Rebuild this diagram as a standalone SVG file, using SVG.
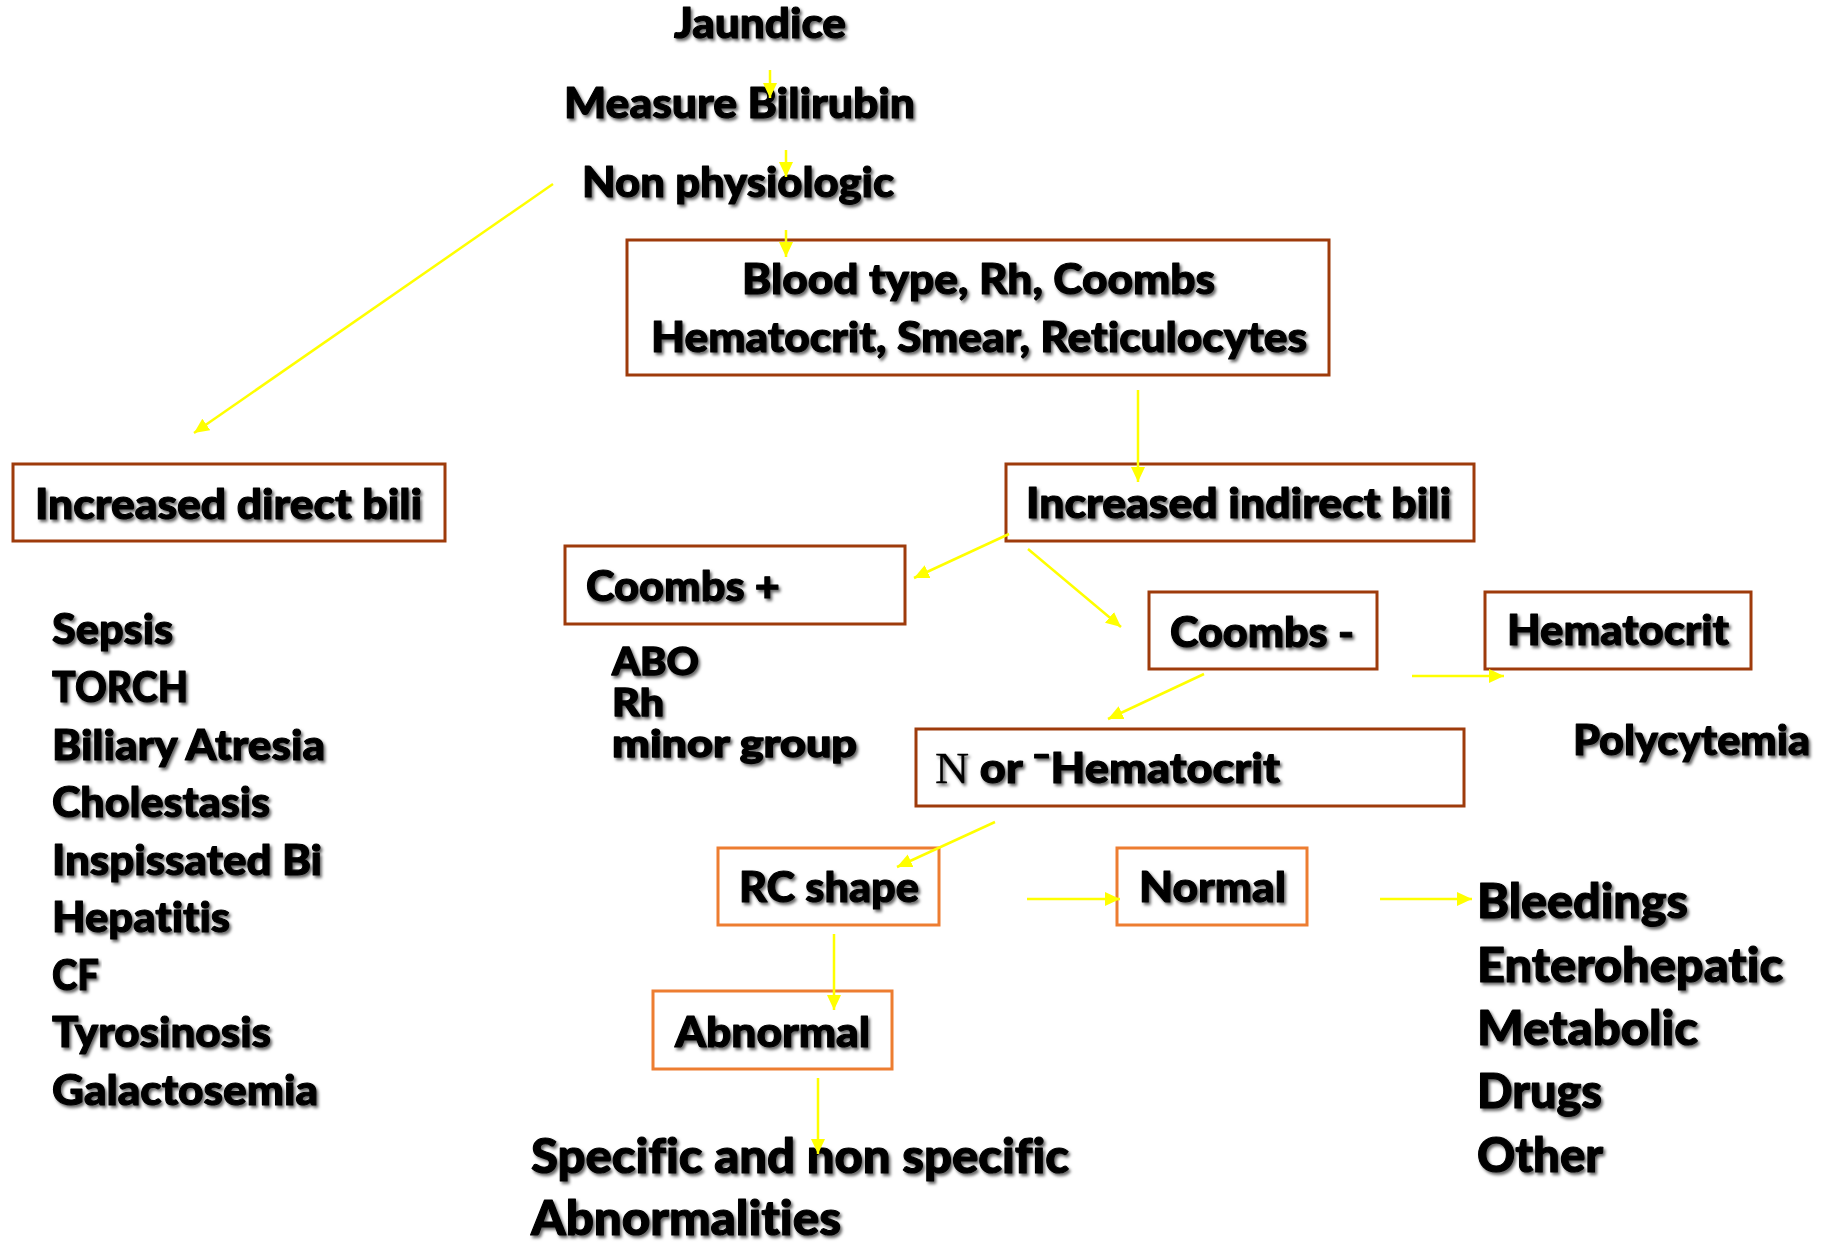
<svg xmlns="http://www.w3.org/2000/svg" width="1822" height="1242" viewBox="0 0 1822 1242">
<defs>
<filter id="sh" x="-5%" y="-30%" width="110%" height="160%">
<feDropShadow dx="2" dy="2.5" stdDeviation="1.5" flood-color="#000" flood-opacity="0.6"/>
</filter>
<marker id="ah" markerUnits="userSpaceOnUse" markerWidth="16" markerHeight="14" refX="15" refY="7" orient="auto" viewBox="0 0 16 14"><path d="M0,0 L15,7 L0,14 Z" fill="#FFFF00"/></marker>
</defs>
<style>
.t{font-family:Lato,"Open Sans","Liberation Sans",sans-serif;font-weight:900;font-size:42px;fill:#000;stroke:#000;stroke-width:1.1px;stroke-linejoin:round;filter:url(#sh);font-variant-ligatures:none}
.b{font-size:47px}
.s{font-size:37px;stroke-width:1.3px}
.sf{font-family:"Liberation Serif","Times New Roman",serif;font-weight:400;font-size:44px;stroke-width:0.3px}
.box{fill:#fff;stroke:#9E3B0B;stroke-width:3}
.obox{fill:#fff;stroke:#ED7D31;stroke-width:3}
.c line{stroke:#FFFF00;stroke-width:2.5;marker-end:url(#ah)}
</style>
<rect width="1822" height="1242" fill="#fff"/>

<g id="jaundice"><text class="t" x="674" y="38" textLength="172" lengthAdjust="spacingAndGlyphs">Jaundice</text></g>
<g id="measure"><text class="t" x="564" y="118" textLength="351" lengthAdjust="spacingAndGlyphs">Measure Bilirubin</text></g>
<g id="nonphys"><text class="t" x="582" y="197" textLength="312" lengthAdjust="spacingAndGlyphs">Non physiologic</text></g>

<g id="bloodtype">
<rect class="box" x="627" y="240" width="702" height="135"/>
<text class="t" x="742" y="294" textLength="473" lengthAdjust="spacingAndGlyphs">Blood type, Rh, Coombs</text>
<text class="t" x="651" y="352" textLength="656" lengthAdjust="spacingAndGlyphs">Hematocrit, Smear, Reticulocytes</text>
</g>

<g id="direct">
<rect class="box" x="13" y="464" width="432" height="77"/>
<text class="t" x="35" y="519" textLength="387" lengthAdjust="spacingAndGlyphs">Increased direct bili</text>
</g>

<g id="directlist">
<text class="t" x="52" y="644" textLength="121" lengthAdjust="spacingAndGlyphs">Sepsis</text>
<text class="t" x="52" y="702" textLength="136" lengthAdjust="spacingAndGlyphs">TORCH</text>
<text class="t" x="52" y="760" textLength="273" lengthAdjust="spacingAndGlyphs">Biliary Atresia</text>
<text class="t" x="52" y="817" textLength="218" lengthAdjust="spacingAndGlyphs">Cholestasis</text>
<text class="t" x="52" y="875" textLength="270" lengthAdjust="spacingAndGlyphs">Inspissated Bi</text>
<text class="t" x="52" y="932" textLength="178" lengthAdjust="spacingAndGlyphs">Hepatitis</text>
<text class="t" x="52" y="990" textLength="47" lengthAdjust="spacingAndGlyphs">CF</text>
<text class="t" x="52" y="1047" textLength="219" lengthAdjust="spacingAndGlyphs">Tyrosinosis</text>
<text class="t" x="52" y="1105" textLength="266" lengthAdjust="spacingAndGlyphs">Galactosemia</text>
</g>

<g id="indirect">
<rect class="box" x="1006" y="464" width="468" height="77"/>
<text class="t" x="1026" y="518" textLength="425" lengthAdjust="spacingAndGlyphs">Increased indirect bili</text>
</g>

<g id="coombspos">
<rect class="box" x="565" y="546" width="340" height="78"/>
<text class="t" x="586" y="601" textLength="194" lengthAdjust="spacingAndGlyphs">Coombs +</text>
</g>

<g id="coombsposlist">
<text class="t s" x="612" y="675" textLength="87" lengthAdjust="spacingAndGlyphs">ABO</text>
<text class="t s" x="612" y="716" textLength="52" lengthAdjust="spacingAndGlyphs">Rh</text>
<text class="t s" x="612" y="757" textLength="245" lengthAdjust="spacingAndGlyphs">minor group</text>
</g>

<g id="coombsneg">
<rect class="box" x="1149" y="592" width="228" height="77"/>
<text class="t" x="1170" y="647" textLength="184" lengthAdjust="spacingAndGlyphs">Coombs -</text>
</g>

<g id="hematocrit">
<rect class="box" x="1485" y="592" width="266" height="77"/>
<text class="t" x="1507" y="645" textLength="222" lengthAdjust="spacingAndGlyphs">Hematocrit</text>
</g>

<g id="polycytemia"><text class="t" x="1573" y="755" textLength="237" lengthAdjust="spacingAndGlyphs">Polycytemia</text></g>

<g id="nhematocrit">
<rect class="box" x="916" y="729" width="548" height="77"/>
<text class="t" x="935" y="783" textLength="345" lengthAdjust="spacingAndGlyphs"><tspan class="sf">N</tspan> or ¯Hematocrit</text>
</g>

<g id="rcshape">
<rect class="obox" x="718" y="848" width="221" height="77"/>
<text class="t" x="739" y="902" textLength="180" lengthAdjust="spacingAndGlyphs">RC shape</text>
</g>

<g id="normal">
<rect class="obox" x="1117" y="848" width="190" height="77"/>
<text class="t" x="1139" y="902" textLength="147" lengthAdjust="spacingAndGlyphs">Normal</text>
</g>

<g id="abnormal">
<rect class="obox" x="653" y="991" width="239" height="78"/>
<text class="t" x="675" y="1047" textLength="195" lengthAdjust="spacingAndGlyphs">Abnormal</text>
</g>

<g id="specific">
<text class="t b" x="531" y="1173" textLength="538" lengthAdjust="spacingAndGlyphs">Specific and non specific</text>
<text class="t b" x="531" y="1235" textLength="310" lengthAdjust="spacingAndGlyphs">Abnormalities</text>
</g>

<g id="normallist">
<text class="t b" x="1477" y="918" textLength="211" lengthAdjust="spacingAndGlyphs">Bleedings</text>
<text class="t b" x="1477" y="982" textLength="306" lengthAdjust="spacingAndGlyphs">Enterohepatic</text>
<text class="t b" x="1477" y="1045" textLength="221" lengthAdjust="spacingAndGlyphs">Metabolic</text>
<text class="t b" x="1477" y="1108" textLength="125" lengthAdjust="spacingAndGlyphs">Drugs</text>
<text class="t b" x="1477" y="1172" textLength="126" lengthAdjust="spacingAndGlyphs">Other</text>
</g>

<g id="connectors" class="c">
<line x1="770" y1="70" x2="770" y2="98"/>
<line x1="786" y1="150" x2="786" y2="177"/>
<line x1="786" y1="230" x2="786" y2="257"/>
<line x1="553" y1="184" x2="194" y2="433"/>
<line x1="1138" y1="390" x2="1138" y2="482"/>
<line x1="1009" y1="534" x2="914" y2="578"/>
<line x1="1028" y1="549" x2="1121" y2="627"/>
<line x1="1204" y1="674" x2="1108" y2="719"/>
<line x1="1412" y1="676" x2="1504" y2="676"/>
<line x1="995" y1="822" x2="897" y2="867"/>
<line x1="1027" y1="899" x2="1120" y2="899"/>
<line x1="1380" y1="899" x2="1472" y2="899"/>
<line x1="834" y1="934" x2="834" y2="1010"/>
<line x1="818" y1="1078" x2="818" y2="1154"/>
</g>
</svg>
